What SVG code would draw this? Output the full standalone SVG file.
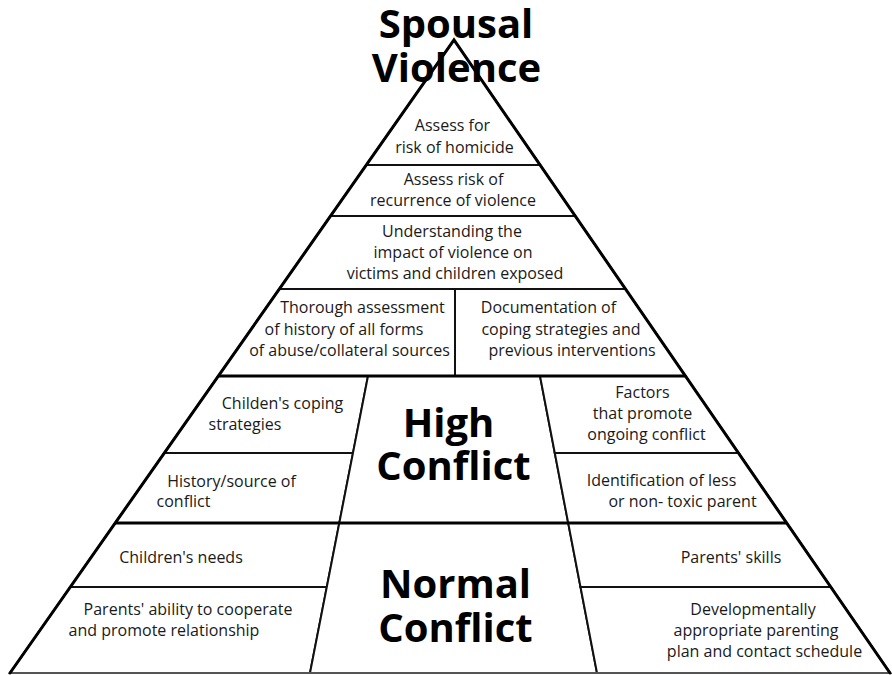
<svg xmlns="http://www.w3.org/2000/svg" width="892" height="675" viewBox="0 0 892 675">
<style>
  .cell{fill:#fff;stroke:#111;stroke-width:2;stroke-linejoin:miter}
  .t{font-family:"Open Sans","Noto Sans","Liberation Sans",sans-serif;font-size:16px;fill:#1a1a1a;text-anchor:middle}
  .big{font-family:"Open Sans","Noto Sans","Liberation Sans",sans-serif;font-weight:bold;font-size:40px;fill:#000;text-anchor:middle}
  .edge{fill:none;stroke:#000;stroke-width:3;stroke-linecap:round}
  .thick{fill:none;stroke:#000;stroke-width:3}
</style>
<rect width="892" height="675" fill="#fff"/>

<g id="sv-homicide">
  <polygon class="cell" points="454,40 540.1,165 366.3,165"/>
  <text class="t" x="452.5" y="131">Assess for</text>
  <text class="t" x="454.5" y="153">risk of homicide</text>
</g>
<g id="sv-recurrence">
  <polygon class="cell" points="366.3,165 540.1,165 575.2,216 330.5,216"/>
  <text class="t" x="453.5" y="185">Assess risk of</text>
  <text class="t" x="453" y="206">recurrence of violence</text>
</g>
<g id="sv-impact">
  <polygon class="cell" points="330.5,216 575.2,216 625.5,289 279.3,289"/>
  <text class="t" x="452" y="237">Understanding the</text>
  <text class="t" x="453" y="258">impact of violence on</text>
  <text class="t" x="455" y="279">victims and children exposed</text>
</g>
<g id="sv-history">
  <polygon class="cell" points="279.3,289 455,289 455,376 218.3,376"/>
  <text class="t" x="362.5" y="313">Thorough assessment</text>
  <text class="t" x="344" y="335">of history of all forms</text>
  <text class="t" x="349.5" y="356">of abuse/collateral sources</text>
</g>
<g id="sv-documentation">
  <polygon class="cell" points="455,289 625.5,289 685.5,376 455,376"/>
  <text class="t" x="548.5" y="313">Documentation of</text>
  <text class="t" x="561" y="335">coping strategies and</text>
  <text class="t" x="572" y="356">previous interventions</text>
</g>

<g id="hc-coping">
  <polygon class="cell" points="218.3,376 368,376 353,453 164.3,453"/>
  <text class="t" x="282.5" y="409">Childen's coping</text>
  <text class="t" x="245" y="430">strategies</text>
</g>
<g id="hc-history">
  <polygon class="cell" points="164.3,453 353,453 339.3,523 115.2,523"/>
  <text class="t" x="231.5" y="487">History/source of</text>
  <text class="t" x="183.5" y="507">conflict</text>
</g>
<g id="hc-label">
  <polygon class="cell" points="368,376 540,376 568.2,523 339.3,523"/>
  <text class="big" x="448.5" y="437">High</text>
  <text class="big" x="453.5" y="480">Conflict</text>
</g>
<g id="hc-factors">
  <polygon class="cell" points="540,376 685.5,376 738.6,453 554.8,453"/>
  <text class="t" x="642.5" y="398">Factors</text>
  <text class="t" x="642.5" y="419">that promote</text>
  <text class="t" x="646.5" y="440">ongoing conflict</text>
</g>
<g id="hc-identification">
  <polygon class="cell" points="554.8,453 738.6,453 786.8,523 568.2,523"/>
  <text class="t" x="661.5" y="486">Identification of less</text>
  <text class="t" x="682.5" y="507">or non- toxic parent</text>
</g>

<g id="nc-needs">
  <polygon class="cell" points="115.2,523 339.3,523 326.8,587 70.3,587"/>
  <text class="t" x="181" y="563">Children's needs</text>
</g>
<g id="nc-ability">
  <polygon class="cell" points="70.3,587 326.8,587 310,673 10,673"/>
  <text class="t" x="188" y="615">Parents' ability to cooperate</text>
  <text class="t" x="164" y="636">and promote relationship</text>
</g>
<g id="nc-label">
  <polygon class="cell" points="339.3,523 568.2,523 597,673 310,673"/>
  <text class="big" x="455.5" y="598">Normal</text>
  <text class="big" x="455.5" y="642">Conflict</text>
</g>
<g id="nc-skills">
  <polygon class="cell" points="568.2,523 786.8,523 830.9,587 580.5,587"/>
  <text class="t" x="731" y="563">Parents' skills</text>
</g>
<g id="nc-plan">
  <polygon class="cell" points="580.5,587 830.9,587 890.1,673 597,673"/>
  <text class="t" x="753" y="615">Developmentally</text>
  <text class="t" x="756" y="636">appropriate parenting</text>
  <text class="t" x="764.5" y="657">plan and contact schedule</text>
</g>

<g id="frame">
  <line class="thick" x1="218.3" y1="376" x2="685.5" y2="376"/>
  <line class="thick" x1="115.2" y1="523" x2="786.8" y2="523"/>
  <line x1="10" y1="673" x2="890" y2="673" stroke="#555" stroke-width="2"/>
  <polyline class="edge" points="10,673 454,40 890,673"/>
</g>

<g id="title">
  <text class="big" x="456" y="38">Spousal</text>
  <text class="big" x="456.5" y="82">Violence</text>
</g>
</svg>
